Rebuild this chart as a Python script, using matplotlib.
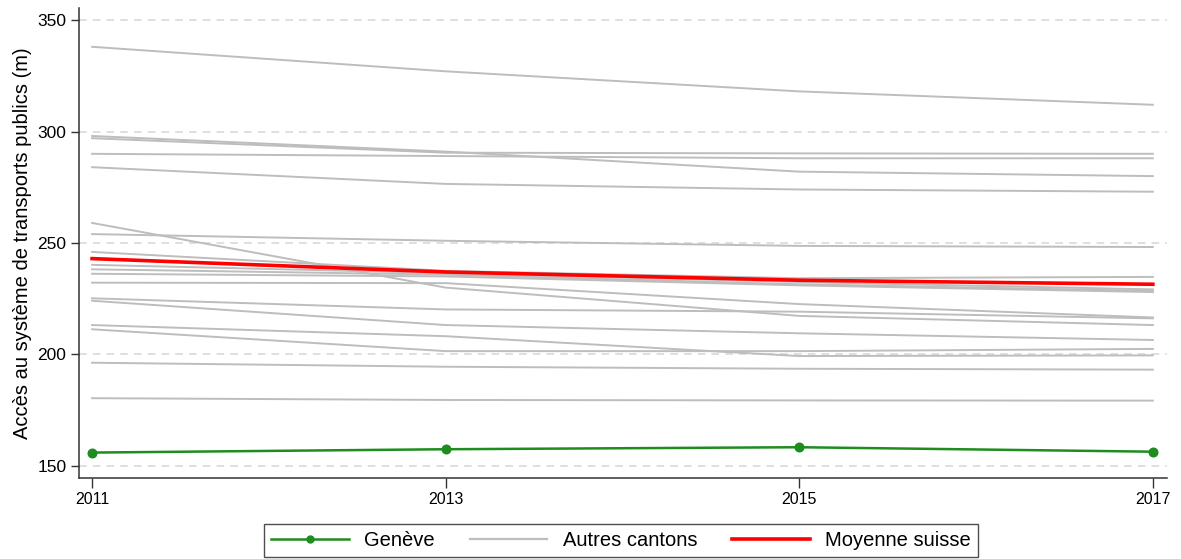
import matplotlib
matplotlib.use("Agg")
import matplotlib.pyplot as plt
from matplotlib.lines import Line2D

plt.rcParams['font.family'] = ['Liberation Sans', 'DejaVu Sans']

years = [2011, 2013, 2015, 2017]

geneve = [156, 157.5, 158.4, 156.4]
moyenne = [243, 237, 233.3, 231.5]

autres_cantons = [
    [338, 327, 318, 312],
    [298, 291, 282, 280],
    [297, 290.5, 290.2, 290],
    [290, 289, 288, 288],
    [284, 276.5, 274, 273],
    [259, 230, 217.3, 213.2],
    [254, 251, 248.7, 248.2],
    [246, 237.5, 234.2, 234.8],
    [240.2, 236.5, 232.5, 229.2],
    [238.2, 235.8, 231.5, 228.5],
    [236.2, 235, 231, 228],
    [232.2, 232, 222.6, 216.6],
    [225.2, 220.2, 219.2, 216.2],
    [224.1, 213.2, 209.5, 206.5],
    [213.2, 208.2, 199.3, 199.6],
    [211.3, 201.5, 201.5, 202.5],
    [196.3, 194.5, 193.6, 193.2],
    [180.4, 179.6, 179.4, 179.3],
]

ytick_values = [150, 200, 250, 300, 350]
ylabel = "Accès au système de transports publics (m)"
legend_labels = ["Genève", "Autres cantons", "Moyenne suisse"]

grey = '#bdbdbd'
red = '#ff0000'
green = '#1e8c1e'

fig = plt.figure(figsize=(11.81, 5.59), dpi=100)
ax = fig.add_axes([79/1181, 1 - 478/559, (1167 - 79)/1181, (478 - 8)/559])

for y in ytick_values:
    ax.axhline(y, color='#d6d6d6', lw=1.1, ls=(0, (5, 4)), zorder=0)

for series in autres_cantons:
    ax.plot(years, series, color=grey, lw=1.4, zorder=2)
ax.plot(years, moyenne, color=red, lw=2.6, zorder=3)
ax.plot(years, geneve, color=green, lw=1.8, marker='o', markersize=6.2, zorder=4)

ax.set_xlim(2010.926, 2017.08)
ax.set_ylim(144.6, 355.4)
ax.set_xticks(years)
ax.set_yticks(ytick_values)
ax.tick_params(axis='x', labelsize=11.5, length=7, width=1, color='#333333', pad=3)
ax.tick_params(axis='y', labelsize=12.5, length=6, width=1, color='#333333', pad=3)
for s in ['top', 'right']:
    ax.spines[s].set_visible(False)
for s in ['left', 'bottom']:
    ax.spines[s].set_color('#333333')
    ax.spines[s].set_linewidth(1.1)

ax.set_ylabel(ylabel, fontsize=14.5, labelpad=4)

handles = [
    Line2D([], [], color=green, lw=1.8, marker='o', markersize=5),
    Line2D([], [], color=grey, lw=1.6),
    Line2D([], [], color=red, lw=2.6),
]
leg = fig.legend(handles, legend_labels, loc='lower center', ncol=3,
                 bbox_to_anchor=(621/1181, -0.014), fontsize=14.5,
                 handlelength=3.85, handletextpad=0.75, columnspacing=1.75,
                 frameon=True, fancybox=False, edgecolor='#222222',
                 borderpad=0.35, borderaxespad=0.5)
leg.get_frame().set_linewidth(1.0)

fig.savefig('out.png', dpi=100)
